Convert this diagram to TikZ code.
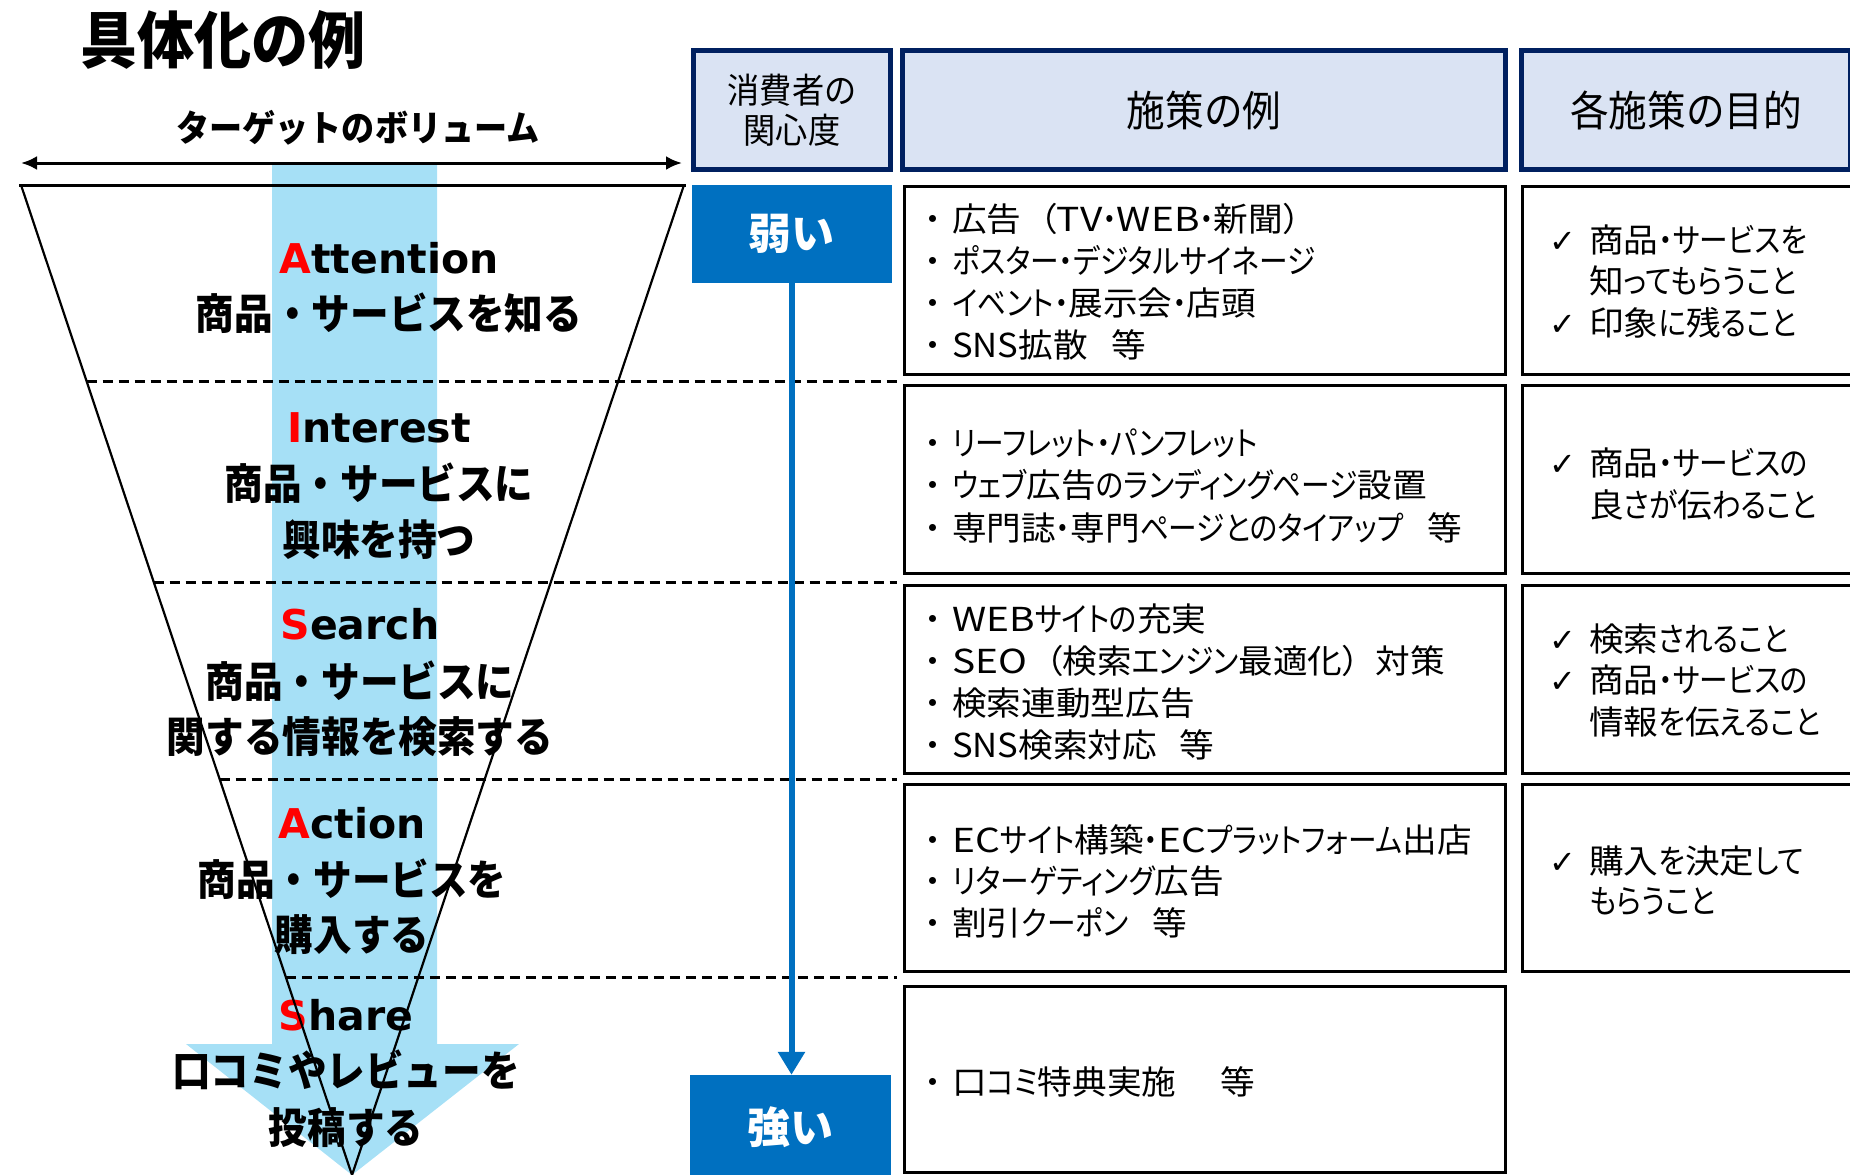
\documentclass[tikz,border=0pt]{standalone}
\usepackage{fontspec}
\usetikzlibrary{arrows.meta}
\newfontfamily\jpR[RawFeature=+palt,FakeStretch=1.05]{Noto Sans CJK JP}
\newfontfamily\jpK[RawFeature=+palt,FakeStretch=0.87]{Noto Sans CJK JP}
\newfontfamily\jpL[FakeStretch=1.18]{Noto Sans CJK JP}
\newfontfamily\jpH[FakeStretch=0.92]{Noto Sans CJK JP}
\newfontfamily\jpB[FakeStretch=0.92]{Noto Sans CJK JP}
\newfontfamily\jpT{Noto Sans CJK JP}
\newfontfamily\latB{DejaVu Sans}
\newfontfamily\symf{DejaVu Sans}
\definecolor{navy}{RGB}{0,32,96}
\definecolor{hdrfill}{RGB}{218,227,243}
\definecolor{mblue}{RGB}{0,112,192}
\definecolor{bandc}{RGB}{166,224,246}
\definecolor{mred}{RGB}{255,0,0}
\newcommand\ck{{\symf\fontsize{32}{32}\selectfont ✓}}
\newcommand\ckline[1]{\makebox[40pt][l]{\ck}#1}
\newcommand\inl[1]{\hspace*{40pt}#1}
\newcommand\kn[1]{{\jpK #1}}
\newcommand\lt[1]{{\jpL #1}}
\newcommand\bl{{\jpT\makebox[28pt][c]{・}}\hspace{5pt}}
\begin{document}
\begin{tikzpicture}[x=1pt,y=-1pt,
  ttlstyle/.style={font=\jpB\bfseries\fontsize{62}{62}\selectfont, inner sep=0, anchor=base west},
  volstyle/.style={font=\jpB\bfseries\fontsize{36}{36}\selectfont, inner sep=0, anchor=base},
  fun/.style={font=\jpB\bfseries\fontsize{42}{56}\selectfont, inner sep=0, anchor=base},
  funlat/.style={font=\latB\bfseries\fontsize{41}{56}\selectfont, inner sep=0, anchor=base},
  hdr/.style={draw=navy, line width=5pt, fill=hdrfill, inner sep=0, align=center},
  lvl/.style={fill=mblue, text=white, font=\jpT\bfseries\fontsize{43}{43}\selectfont, inner sep=0},
  cell/.style={draw=black, line width=3pt, fill=white, inner sep=0},
  body/.style={font=\jpR\fontsize{33}{42}\selectfont, inner sep=0, anchor=base west},
  dashsep/.style={line width=3pt, dash pattern=on 10pt off 6pt},
  dblarrow/.style={line width=3pt, {Latex[length=16pt,width=14pt]}-{Latex[length=16pt,width=14pt]}},
  varrow/.style={draw=mblue, line width=6pt, -{Triangle[length=23pt,width=26pt]}},
]
\useasboundingbox (0,0) rectangle (1850,1175);
\clip (0,0) rectangle (1850,1175);

% title and volume label
\node[ttlstyle] (ttl) at (80,63) {具体化の例};
\node[volstyle] (vol) at (358,141) {ターゲットのボリューム};

% light blue band arrow
\fill[bandc] (272,163) -- (437,163) -- (437,1044) -- (519,1044) -- (352,1175) -- (186,1044) -- (272,1044) -- cycle;

\coordinate (vl) at (21,163);
\coordinate (vr) at (682,163);
\draw[dblarrow] (vl) -- (vr);

% funnel texts
\node[funlat] (t1a) at (389,273) {\textcolor{mred}{A}ttention};
\node[fun] (t1b) at (389,329) {商品・サービスを知る};
\node[funlat] (t2a) at (379,442) {\textcolor{mred}{I}nterest};
\node[fun] (t2b) at (379,499) {商品・サービスに};
\node[fun] (t2c) at (379,555) {興味を持つ};
\node[funlat] (t3a) at (360,639) {\textcolor{mred}{S}earch};
\node[fun] (t3b) at (360,697) {商品・サービスに};
\node[fun] (t3c) at (360,752) {関する情報を検索する};
\node[funlat] (t4a) at (352,838) {\textcolor{mred}{A}ction};
\node[fun] (t4b) at (352,895) {商品・サービスを};
\node[fun] (t4c) at (352,950) {購入する};
\node[funlat] (t5a) at (346,1030) {\textcolor{mred}{S}hare};
\node[fun] (t5b) at (346,1086) {口コミやレビューを};
\node[fun] (t5c) at (346,1143) {投稿する};

% funnel outline
\draw[line width=2.2pt] (21,185) -- (352,1175) -- (684,185);
\draw[line width=3pt] (19,185) -- (686,185);

% dashed separators
\foreach \yy in {381,582,779,977}
  \draw[dashsep] ({21+(\yy-185)*0.3343},\yy) -- (897,\yy);

% headers
\node[hdr, minimum width=197, minimum height=119, font=\jpH\fontsize{35}{40}\selectfont] (h1) at (792,110) {消費者の\\関心度};
\node[hdr, minimum width=603, minimum height=119, font=\jpH\fontsize{42}{42}\selectfont] (h2) at (1204,110) {施策の例};
\node[hdr, minimum width=329, minimum height=119, font=\jpH\fontsize{42}{42}\selectfont] (h3) at (1686,110) {各施策の目的};

% cells: measures
\node[cell, minimum width=601, minimum height=188] (m1) at (1205,280.5) {};
\node[cell, minimum width=601, minimum height=188] (m2) at (1205,479.5) {};
\node[cell, minimum width=601, minimum height=188] (m3) at (1205,679.5) {};
\node[cell, minimum width=601, minimum height=187] (m4) at (1205,878) {};
\node[cell, minimum width=601, minimum height=186] (m5) at (1205,1079.5) {};
% cells: purposes
\node[cell, minimum width=348, minimum height=188] (p1) at (1696.5,280.5) {};
\node[cell, minimum width=348, minimum height=188] (p2) at (1696.5,479.5) {};
\node[cell, minimum width=348, minimum height=188] (p3) at (1696.5,679.5) {};
\node[cell, minimum width=348, minimum height=187] (p4) at (1696.5,878) {};

% interest level
\node[lvl, minimum width=200, minimum height=98] (weak) at (791.5,234) {弱い};
\node[lvl, minimum width=201, minimum height=104] (strong) at (790.5,1127) {強い};
\draw[varrow] (weak.south) -- (weak.south |- strong.north);

% measure texts
\foreach \t [count=\i from 0] in {{\bl 広告\hspace{18pt}（\lt{TV}\kn{・}\lt{WEB}\kn{・}新聞）},{\bl \kn{ポスター・デジタルサイネージ}},{\bl \kn{イベント・}展示会\kn{・}店頭},{\bl SNS拡散\hspace{24pt}等}}
  \node[body] (s1-\i) at (919,231+42.3*\i) {\t};
\foreach \t [count=\i from 0] in {{\bl \kn{リーフレット・パンフレット}},{\bl \kn{ウェブ}広告\kn{のランディングページ}設置},{\bl 専門誌\kn{・}専門\kn{ページとのタイアップ}\hspace{24pt}等}}
  \node[body] (s2-\i) at (919,455+42.5*\i) {\t};
\foreach \t [count=\i from 0] in {{\bl \lt{WEB}\kn{サイトの}充実},{\bl \lt{SEO}\hspace{18pt}（検索\kn{エンジン}最適化）\hspace{16pt}対策},{\bl 検索連動型広告},{\bl SNS検索対応\hspace{22pt}等}}
  \node[body] (s3-\i) at (919,631+42*\i) {\t};
\foreach \t [count=\i from 0] in {{\bl \lt{EC}\kn{サイト}構築\kn{・}\lt{EC}\kn{プラットフォーム}出店},{\bl \kn{リターゲティング}広告},{\bl 割引\kn{クーポン}\hspace{24pt}等}}
  \node[body] (s4-\i) at (919,852+41.5*\i) {\t};
\node[body] (s5-0) at (919,1094) {\bl 口\kn{コミ}特典実施\hspace{44pt}等};

% purpose texts
\foreach \t [count=\i from 0] in {{\ckline{商品\kn{・サービスを}}},{\inl{知\kn{ってもらうこと}}},{\ckline{印象\kn{に}残\kn{ること}}}}
  \node[body] (q1-\i) at (1549,252+41.5*\i) {\t};
\foreach \t [count=\i from 0] in {{\ckline{商品\kn{・サービスの}}},{\inl{良\kn{さが}伝\kn{わること}}}}
  \node[body] (q2-\i) at (1549,475+42*\i) {\t};
\foreach \t [count=\i from 0] in {{\ckline{検索\kn{されること}}},{\ckline{商品\kn{・サービスの}}},{\inl{情報\kn{を}伝\kn{えること}}}}
  \node[body] (q3-\i) at (1549,651+41.5*\i) {\t};
\foreach \t [count=\i from 0] in {{\ckline{購入\kn{を}決定\kn{して}}},{\inl{\kn{もらうこと}}}}
  \node[body] (q4-\i) at (1549,873+40*\i) {\t};
\end{tikzpicture}
\end{document}
